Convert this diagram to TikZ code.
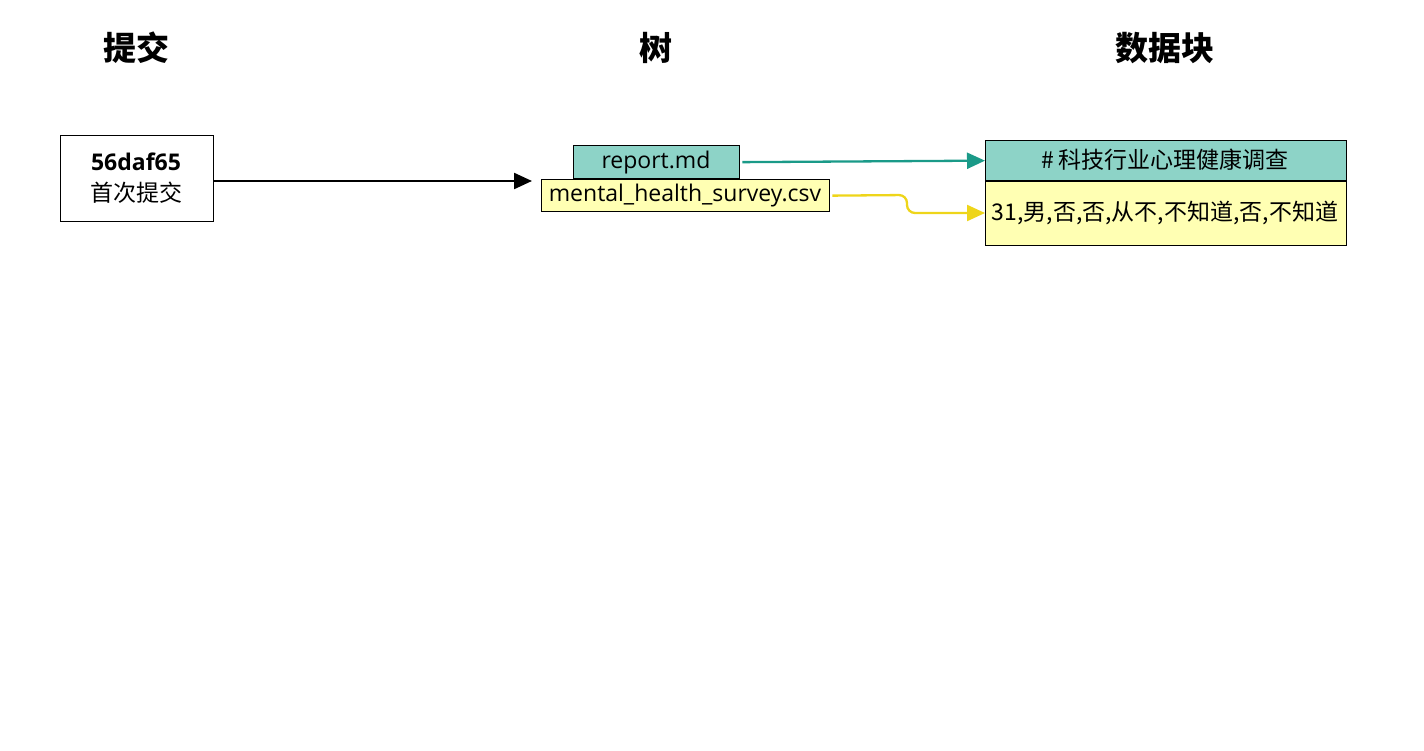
\documentclass[tikz,border=0pt]{standalone}
\usepackage{fontspec}
\setmainfont{Open Sans}
\newfontfamily\cjk{Noto Sans CJK SC}
\usetikzlibrary{arrows.meta}
\definecolor{teal1}{HTML}{8DD3C7}
\definecolor{yel1}{HTML}{FFFFB3}
\definecolor{tealline}{HTML}{1A9A88}
\definecolor{yelline}{HTML}{EED51A}
\begin{document}
\begin{tikzpicture}[x=1pt,y=-1pt,
 hdr/.style={font=\cjk\fontsize{33}{35}\selectfont\bfseries},
 box/.style={draw=black,line width=1.3pt,inner sep=0pt,anchor=north west},
 lab/.style={font=\fontsize{23}{25}\selectfont},
 arr/.style={line width=2.3pt,-{Triangle[length=18pt,width=16pt]}}]
\useasboundingbox (0,0) rectangle (1424,751);
\node[hdr] (h1) at (136,48) {提交};
\node[hdr] (h2) at (656,48) {树};
\node[hdr] (h3) at (1165,48) {数据块};
\node[box,fill=white,minimum width=153pt,minimum height=86pt] (c) at (60,135) {};
\node[font=\fontsize{23}{25}\selectfont\bfseries] (ch) at (136,162) {56daf65};
\node[font=\cjk\fontsize{23}{25}\selectfont] (cm) at (136,193) {首次提交};
\node[box,fill=teal1,minimum width=166pt,minimum height=33pt] (r) at (573,145) {};
\node[lab] (rt) at (656,163) {report.md};
\node[box,fill=yel1,minimum width=288pt,minimum height=32pt] (s) at (541,179) {};
\node[lab] (st) at (685,196) {mental\_health\_survey.csv};
\node[box,fill=teal1,minimum width=361pt,minimum height=40pt] (b1) at (985,140) {};
\node[font=\cjk\fontsize{23}{25}\selectfont] (b1t) at (1165,160) {\# 科技行业心理健康调查};
\node[box,fill=yel1,minimum width=361pt,minimum height=64pt] (b2) at (985,181) {};
\node[font=\cjk\fontsize{23}{25}\selectfont] (b2t) at (1165,213) {31,男,否,否,从不,不知道,否,不知道};
\coordinate (tin) at (532,181);
\draw[arr,black] (c.east |- tin) -- (tin);
\draw[arr,tealline] ([xshift=2pt]r.east) -- (b1.west);
\draw[arr,yelline,rounded corners=8pt] ([xshift=2pt]s.east) -- (907,195) -- (907,213) -- (b2.west |- 0,213);
\end{tikzpicture}
\end{document}
